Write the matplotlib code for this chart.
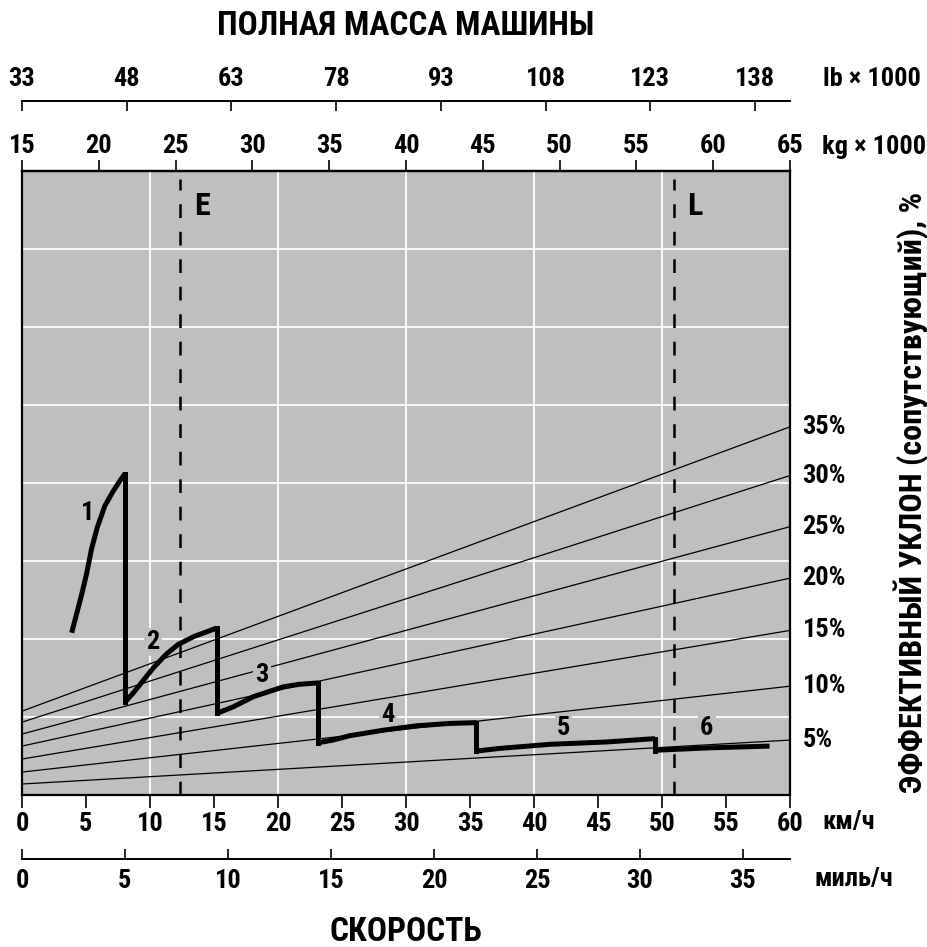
import matplotlib
matplotlib.use("Agg")
import matplotlib.pyplot as plt
from matplotlib import font_manager as fm

# ---------- pick a bold condensed font if one is installed ----------
prefs = [('Liberation Sans Narrow', None), ('Roboto Condensed', None),
         ('Noto Sans', 'condensed'), ('Noto Sans Condensed', None),
         ('Open Sans', 'condensed'), ('Open Sans Condensed', None),
         ('DejaVu Sans', 'condensed'), ('Noto Sans', 'semi-condensed'),
         ('DejaVu Sans Condensed', None)]
chosen = ('DejaVu Sans', 'normal')
entries = fm.fontManager.ttflist
for name, st in prefs:
    ok = [f for f in entries if f.name == name and
          (st is None or f.stretch == st) and
          (isinstance(f.weight, int) and f.weight >= 600 or f.weight == 'bold')]
    if ok:
        chosen = (name, ok[0].stretch)
        break
plt.rcParams['font.family'] = [chosen[0], 'DejaVu Sans']
plt.rcParams['font.stretch'] = chosen[1]
plt.rcParams['font.weight'] = 800

# ---------------- data ----------------
speed_ticks_kmh = [0, 5, 10, 15, 20, 25, 30, 35, 40, 45, 50, 55, 60]
speed_ticks_mph = [0, 5, 10, 15, 20, 25, 30, 35]
mass_ticks_kg = [15, 20, 25, 30, 35, 40, 45, 50, 55, 60, 65]
mass_ticks_lb = [33, 48, 63, 78, 93, 108, 123, 138]

grades = ["5%", "10%", "15%", "20%", "25%", "30%", "35%"]
grade_mass_ends = [15, 65]                        # t
grade_val_at_15t = [1.41, 2.94, 4.61, 6.27, 7.81, 9.34, 10.75]
grade_val_at_65t = [7.04, 13.95, 21.1, 27.8, 34.4, 40.96, 47.2]

gear_labels = ["1", "2", "3", "4", "5", "6"]
gear_label_pos_v = [5.16, 10.23, 18.75, 28.6, 42.3, 53.5]
gear_label_pos_u = [36.1, 19.6, 15.4, 10.2, 8.6, 8.6]

g1_v = [3.88, 4.27, 4.66, 5.05, 5.44, 5.88, 6.48, 7.14, 7.66, 8.05]
g1_u = [20.8, 23.25, 25.7, 28.4, 31.6, 34.3, 37.1, 39.0, 40.3, 41.2]
g2_v = [8.05, 8.70, 9.48, 10.26, 11.3, 12.2, 13.4, 14.4, 15.2]
g2_u = [11.9, 13.1, 14.7, 16.3, 18.1, 19.3, 20.3, 20.9, 21.4]
g3_v = [15.2, 16.5, 18.07, 20.4, 21.7, 23.15]
g3_u = [10.45, 11.3, 12.6, 13.86, 14.2, 14.37]
g4_v = [23.15, 24.3, 25.6, 28.2, 30.8, 33.4, 35.5]
g4_u = [6.7, 7.04, 7.6, 8.3, 8.87, 9.17, 9.28]
g5_v = [35.5, 37.3, 41.25, 45.7, 49.45]
g5_u = [5.63, 5.97, 6.5, 6.8, 7.23]
g6_v = [49.45, 49.8, 53.75, 58.4]
g6_u = [5.67, 5.76, 6.05, 6.27]
gears_v = [g1_v, g2_v, g3_v, g4_v, g5_v, g6_v]
gears_u = [g1_u, g2_u, g3_u, g4_u, g5_u, g6_u]

marker_names = ["E", "L"]
marker_kmh = [12.34, 50.9]

# ---------------- conversions ----------------
KMH_MAX = 60.0
KG_MIN, KG_MAX = 15.0, 65.0
LB_PER_KG = 2.2
KMH_PER_MPH = 1.609344


def kmh_to_kg(v):
    return KG_MIN + v * (KG_MAX - KG_MIN) / KMH_MAX


def kg_to_kmh(m):
    return (m - KG_MIN) * KMH_MAX / (KG_MAX - KG_MIN)


def kmh_to_lb(v):
    return kmh_to_kg(v) * LB_PER_KG


def lb_to_kmh(lb):
    return kg_to_kmh(lb / LB_PER_KG)


def kmh_to_mph(v):
    return v / KMH_PER_MPH


def mph_to_kmh(m):
    return m * KMH_PER_MPH


W, H = 927, 947
fig = plt.figure(figsize=(W / 100, H / 100), dpi=100)
GRAY = '#bebfc1'

L, R, T, B = 22, 790, 171, 795
ax = fig.add_axes([L / W, 1 - B / H, (R - L) / W, (B - T) / H])
ax.set_facecolor(GRAY)
ax.set_xlim(0, KMH_MAX)
ax.set_ylim(0, 80)
for s in ax.spines.values():
    s.set_linewidth(1.6)
    s.set_color('black')

# grid
for v in range(10, 60, 10):
    ax.axvline(v, color='white', lw=1.3, zorder=1)
for u in range(10, 80, 10):
    ax.axhline(u, color='white', lw=1.3, zorder=1)

TICKFS = 19
ax.set_xticks(speed_ticks_kmh)
ax.set_xticklabels([str(t) for t in speed_ticks_kmh])
ax.tick_params(axis='x', direction='out', length=9, width=1.2, pad=3,
               labelsize=TICKFS)
ax.set_yticks([])

# top kg axis
sec_kg = ax.secondary_xaxis('top', functions=(kmh_to_kg, kg_to_kmh))
sec_kg.set_xticks(mass_ticks_kg)
sec_kg.set_xticklabels([str(t) for t in mass_ticks_kg])
sec_kg.tick_params(direction='out', length=8, width=1.2, pad=1,
                   labelsize=TICKFS)
sec_kg.spines['top'].set_linewidth(1.6)

# lb axis
loc_lb = 1 + (T - 101) / (B - T)
sec_lb = ax.secondary_xaxis(loc_lb, functions=(kmh_to_lb, lb_to_kmh))
sec_lb.set_xticks(mass_ticks_lb)
sec_lb.set_xticklabels([str(t) for t in mass_ticks_lb])
sec_lb.tick_params(direction='in', length=7, width=1.2, pad=7,
                   labelsize=TICKFS)
sec_lb.spines['top'].set_linewidth(1.4)

# mph axis
loc_mph = -(859 - B) / (B - T)
sec_mph = ax.secondary_xaxis(loc_mph, functions=(kmh_to_mph, mph_to_kmh))
sec_mph.set_xticks(speed_ticks_mph)
sec_mph.set_xticklabels([str(t) for t in speed_ticks_mph])
sec_mph.tick_params(direction='in', length=7, width=1.2, pad=7,
                    labelsize=TICKFS)
sec_mph.spines['bottom'].set_linewidth(1.4)

# grade lines
x_ends = [kg_to_kmh(m) for m in grade_mass_ends]
for g, a, b in zip(grades, grade_val_at_15t, grade_val_at_65t):
    ax.plot(x_ends, [a, b], color='black', lw=0.9, zorder=2,
            clip_on=False)
    ax.annotate(g, xy=(x_ends[1], b), xycoords='data',
                xytext=(9, 0), textcoords='offset points',
                ha='left', va='center', fontsize=TICKFS, annotation_clip=False)

# marker lines
for name, v in zip(marker_names, marker_kmh):
    ax.plot([v, v], [0, 79], color='black', lw=1.8, zorder=3,
            dashes=(5.5, 5.5), dash_capstyle='butt')
    ax.text(v + 1.1, 75.5, name, fontsize=23, ha='left', va='center',
            zorder=4)

# gear labels (under the curves, masking grid/grade lines)
for lab, v, u in zip(gear_labels, gear_label_pos_v, gear_label_pos_u):
    ax.text(v, u, lab, fontsize=19, ha='center', va='center', zorder=4,
            bbox=dict(facecolor=GRAY, edgecolor='none', pad=1.5))

# gear curves
for gv, gu in zip(gears_v, gears_u):
    ax.plot(gv, gu, color='black', lw=3.6, zorder=5,
            solid_joinstyle='miter', solid_capstyle='butt')
# vertical drops between gears
for i in range(len(gears_v) - 1):
    ax.plot([gears_v[i][-1], gears_v[i + 1][0]],
            [gears_u[i][-1], gears_u[i + 1][0]],
            color='black', lw=3.6, zorder=5, solid_capstyle='projecting')

# unit labels
UFS = 19


def ftext(x, y, s, **kw):
    fig.text(x / W, 1 - y / H, s, **kw)


ftext(823, 79, 'lb × 1000', fontsize=UFS, ha='left', va='center')
ftext(822, 147, 'kg × 1000', fontsize=UFS, ha='left', va='center')
ftext(822, 822, 'км/ч', fontsize=UFS, ha='left', va='center')
ftext(815, 879, 'миль/ч', fontsize=UFS, ha='left', va='center')

ftext(406, 26, 'ПОЛНАЯ МАССА МАШИНЫ', fontsize=24, ha='center', va='center')
ftext(406, 932, 'СКОРОСТЬ', fontsize=24, ha='center', va='center')
ftext(911, 492, 'ЭФФЕКТИВНЫЙ УКЛОН (сопутствующий), %', fontsize=23.2,
      ha='center', va='center', rotation=90)

fig.savefig('out.png', dpi=100)
